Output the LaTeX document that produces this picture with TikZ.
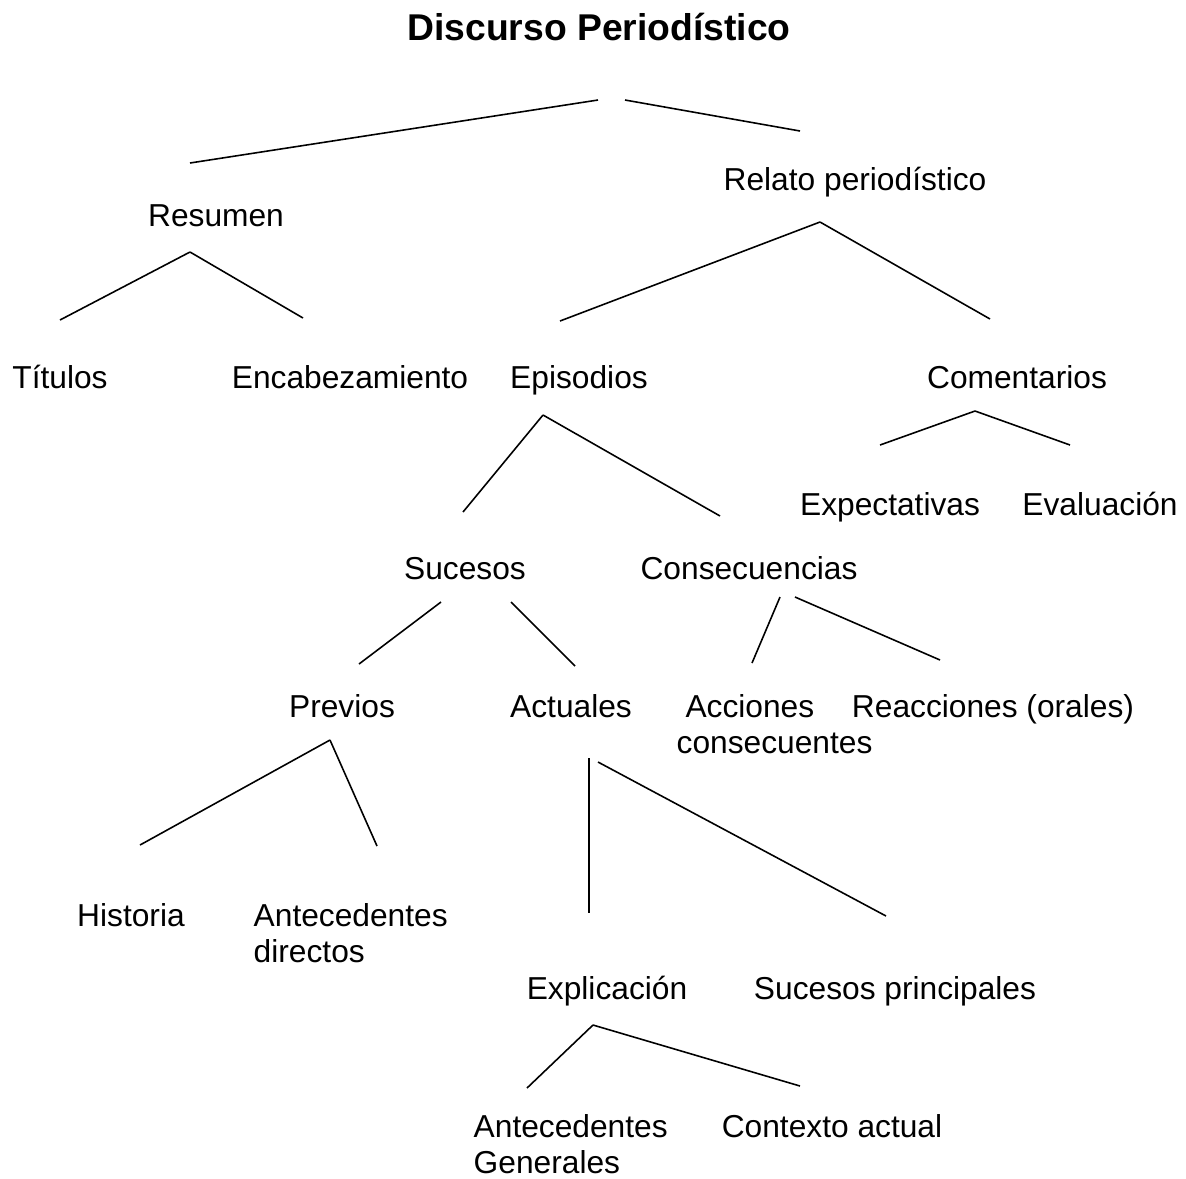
\documentclass[tikz,border=0pt]{standalone}
\usepackage{fontspec}
\setmainfont{Liberation Sans}
\begin{document}
\begin{tikzpicture}[x=0.01cm,y=-0.01cm,
  lbl/.style={inner sep=0pt,anchor=base,font=\fontsize{9.02pt}{10.24pt}\selectfont},
  lblL/.style={inner sep=0pt,anchor=base west,align=left,font=\fontsize{9.02pt}{10.24pt}\selectfont},
  ttl/.style={inner sep=0pt,anchor=base,font=\fontsize{10.6pt}{12pt}\selectfont\bfseries},
  edge/.style={draw=black,line width=0.45pt}]
\useasboundingbox (0,0) rectangle (1186,1178);
% texts
\node[ttl] (title) at (599,40) {Discurso Periodístico};
\node[lbl] (relato) at (855,190) {Relato periodístico};
\node[lbl] (resumen) at (216,226) {Resumen};
\node[lbl] (titulos) at (60,388) {Títulos};
\node[lbl] (encab) at (350,388) {Encabezamiento};
\node[lbl] (episodios) at (579,388) {Episodios};
\node[lbl] (coment) at (1017,388) {Comentarios};
\node[lbl] (expect) at (890,515) {Expectativas};
\node[lbl] (evalu) at (1100,515) {Evaluación};
\node[lbl] (sucesos) at (465,579) {Sucesos};
\node[lbl] (consec) at (749,579) {Consecuencias};
\node[lbl] (previos) at (342,717) {Previos};
\node[lbl] (actuales) at (571,717) {Actuales};
\node[lblL] (acciones) at (676,753) {\hspace{2.5pt}Acciones\\consecuentes};
\node[lbl] (reacc) at (993,717) {Reacciones (orales)};
\node[lbl] (historia) at (131,926) {Historia};
\node[lblL] (antdir) at (253,962) {Antecedentes\\directos};
\node[lbl] (explic) at (607,999) {Explicación};
\node[lbl] (sucprin) at (895,999) {Sucesos principales};
\node[lblL] (antgen) at (473,1173) {Antecedentes\\Generales};
\node[lbl] (contexto) at (832,1137) {Contexto actual};
% connector endpoints
\coordinate (t1) at (598,100); \coordinate (t2) at (625,100);
\coordinate (r0) at (190,163); \coordinate (rl0) at (800,131);
\coordinate (res) at (190,252); \coordinate (tit) at (60,320); \coordinate (enc) at (303,318);
\coordinate (rel) at (820,222); \coordinate (epi) at (560,321); \coordinate (com) at (990,319);
\coordinate (epiB) at (543,415); \coordinate (suc) at (463,512); \coordinate (cons) at (720,516);
\coordinate (comB) at (975,411); \coordinate (exp) at (880,445); \coordinate (eva) at (1070,445);
\coordinate (sucB1) at (441,602); \coordinate (sucB2) at (511,602);
\coordinate (pre) at (359,664); \coordinate (act) at (575,666);
\coordinate (conB1) at (780,597); \coordinate (conB2) at (795,597);
\coordinate (acc) at (752,663); \coordinate (rea) at (940,660);
\coordinate (preB) at (330,740); \coordinate (his) at (140,845); \coordinate (ant) at (377,846);
\coordinate (actB1) at (589,758); \coordinate (actB2) at (598,762);
\coordinate (expl) at (589,913); \coordinate (spr) at (886,916);
\coordinate (explB) at (593,1025); \coordinate (ag) at (527,1088); \coordinate (ctx) at (800,1086);
% connectors
\draw[edge] (t1) -- (r0);
\draw[edge] (t2) -- (rl0);
\draw[edge] (res) -- (tit);
\draw[edge] (res) -- (enc);
\draw[edge] (rel) -- (epi);
\draw[edge] (rel) -- (com);
\draw[edge] (epiB) -- (suc);
\draw[edge] (epiB) -- (cons);
\draw[edge] (comB) -- (exp);
\draw[edge] (comB) -- (eva);
\draw[edge] (sucB1) -- (pre);
\draw[edge] (sucB2) -- (act);
\draw[edge] (conB1) -- (acc);
\draw[edge] (conB2) -- (rea);
\draw[edge] (preB) -- (his);
\draw[edge] (preB) -- (ant);
\draw[edge] (actB1) -- (expl);
\draw[edge] (actB2) -- (spr);
\draw[edge] (explB) -- (ag);
\draw[edge] (explB) -- (ctx);
\end{tikzpicture}
\end{document}
